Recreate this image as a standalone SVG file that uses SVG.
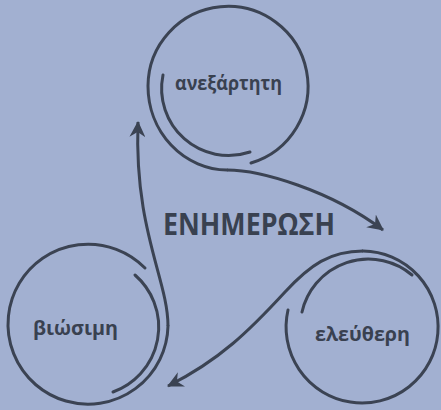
<svg xmlns="http://www.w3.org/2000/svg" width="441" height="410" viewBox="0 0 441 410">
  <defs>
    <marker id="arrow" viewBox="0 0 16 16" refX="15" refY="8" markerWidth="16" markerHeight="16" markerUnits="userSpaceOnUse" orient="auto">
      <path d="M0,0 L16,8 L0,16 L5,8 Z" fill="#3b4353"/>
    </marker>
  </defs>
  <style>
    .ring { fill: none; stroke: #3b4353; stroke-width: 3; stroke-linecap: round; }
    .conn { fill: none; stroke: #3b4353; stroke-width: 3; stroke-linecap: butt; marker-end: url(#arrow); }
    .label { font-family: "Open Sans", "DejaVu Sans", sans-serif; font-weight: 700; font-size: 19px; fill: #394150; text-anchor: middle; }
    .title { font-family: "Open Sans", "DejaVu Sans", sans-serif; font-weight: 700; font-size: 30px; fill: #394150; text-anchor: middle; }
  </style>
  <rect width="441" height="410" fill="#a2b0d1"/>

  <g id="node-anexartiti">
    <path class="ring" d="M251,163 A80,80 0 1 0 148,86 A80,84 0 0 0 227,170"/>
    <path class="ring" d="M163,75 A67,67 0 0 0 250,152"/>
    <text class="label" x="228.5" y="90" textLength="107" lengthAdjust="spacingAndGlyphs">ανεξάρτητη</text>
  </g>

  <g id="node-eleftheri">
    <path class="ring" d="M288,310 A76,76 0 1 0 363,251"/>
    <path class="ring" d="M302,312 A68,68 0 0 1 412,275"/>
    <text class="label" x="362.5" y="341" textLength="95" lengthAdjust="spacingAndGlyphs">ελεύθερη</text>
  </g>

  <g id="node-viosimi">
    <path class="ring" d="M145,268 A80,80 0 1 0 168,326"/>
    <path class="ring" d="M135,275 A69,69 0 0 1 113,392"/>
    <text class="label" x="75.5" y="335" textLength="85" lengthAdjust="spacingAndGlyphs">βιώσιμη</text>
  </g>

  <g id="center-title">
    <text class="title" x="249" y="235" textLength="172" lengthAdjust="spacingAndGlyphs">ΕΝΗΜΕΡΩΣΗ</text>
  </g>

  <g id="connectors">
    <path class="conn" d="M227,170 C260,170 330,190 383,230"/>
    <path class="conn" d="M363,251 C330,251 310,265 285,292 C250,330 220,360 168,386"/>
    <path class="conn" d="M168,326 C168,280 134,230 138,122"/>
  </g>
</svg>
